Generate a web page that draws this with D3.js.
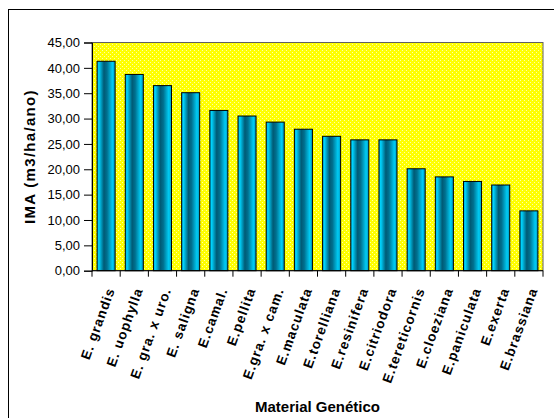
<!DOCTYPE html>
<html><head><meta charset="utf-8">
<script src="https://cdn.jsdelivr.net/npm/d3@7"></script>
<style>body{margin:0;background:#fff}svg{display:block}</style>
</head><body>
<script>
const categories = ["E. grandis","E. uophylla","E. gra. x uro.","E. saligna","E.camal.","E.pellita","E.gra. x cam.","E.maculata","E.torelliana","E.resinifera","E.citriodora","E.tereticornis","E.cloeziana","E.paniculata","E.exerta","E.brassiana"];
const values = [41.3, 38.7, 36.5, 35.1, 31.6, 30.5, 29.3, 27.9, 26.5, 25.8, 25.8, 20.1, 18.5, 17.6, 16.9, 11.8];
const yTicks = [0,5,10,15,20,25,30,35,40,45];
const yTitle = "IMA (m3/ha/ano)";
const xTitle = "Material Genético";

const W = 554, H = 418;
const m = {left:92, right:543, top:42.5, bottom:270.7};
const svg = d3.select("body").append("svg").attr("width",W).attr("height",H);
const defs = svg.append("defs");
const pat = defs.append("pattern").attr("id","dots").attr("patternUnits","userSpaceOnUse").attr("width",4).attr("height",4);
pat.append("rect").attr("width",4).attr("height",4).attr("fill","#ffff00");
pat.append("rect").attr("x",0).attr("y",0).attr("width",1).attr("height",1).attr("fill","#ffffa8");
pat.append("rect").attr("x",2).attr("y",2).attr("width",1).attr("height",1).attr("fill","#ffffa8");
const grad = defs.append("linearGradient").attr("id","cyl").attr("x1","0%").attr("x2","100%").attr("y1","0%").attr("y2","0%");
[[0,"#00a8d0"],[0.1,"#00d4ff"],[0.38,"#005a75"],[0.55,"#00708f"],[0.85,"#00ccf5"],[1,"#0098c0"]].forEach(([o,c])=>grad.append("stop").attr("offset",o).attr("stop-color",c));

// outer frame
svg.append("rect").attr("x",8.5).attr("y",9.5).attr("width",560).attr("height",420).attr("fill","#fff").attr("stroke","#000").attr("stroke-width",1);

const x = d3.scaleBand().domain(categories).range([m.left,m.right]).paddingInner(0.36).paddingOuter(0.18);
const y = d3.scaleLinear().domain([0,45]).range([m.bottom,m.top]);

svg.append("rect").attr("x",m.left).attr("y",m.top).attr("width",m.right-m.left).attr("height",m.bottom-m.top)
  .attr("fill","url(#dots)").attr("stroke","#606060").attr("stroke-width",1);

svg.append("g").selectAll("rect").data(values).join("rect")
  .attr("x",(d,i)=>x(categories[i])).attr("width",x.bandwidth())
  .attr("y",d=>y(d)).attr("height",d=>m.bottom-y(d))
  .attr("fill","url(#cyl)").attr("stroke","#000").attr("stroke-width",1);

// y axis
const ya = svg.append("g").attr("transform",`translate(${m.left},0)`)
  .call(d3.axisLeft(y).tickValues(yTicks).tickSize(8).tickPadding(4).tickFormat(d=>d3.format(".2f")(d).replace(".",",")));
ya.select(".domain").attr("stroke","#000");
ya.selectAll("text").attr("font-family","Liberation Sans, Arial, sans-serif").attr("font-size","13px").attr("fill","#000");

// x axis ticks at band boundaries
const bounds = d3.range(categories.length+1).map(i=>m.left + i*(m.right-m.left)/categories.length);
svg.append("line").attr("x1",m.left).attr("x2",m.right).attr("y1",m.bottom).attr("y2",m.bottom).attr("stroke","#000");
svg.append("g").selectAll("line").data(bounds).join("line")
  .attr("x1",d=>d).attr("x2",d=>d).attr("y1",m.bottom).attr("y2",m.bottom+6).attr("stroke","#000");

svg.append("g").selectAll("text").data(categories).join("text")
  .attr("transform",d=>`translate(${x(d)+x.bandwidth()/2+9},${m.bottom+19}) rotate(-70)`)
  .attr("text-anchor","end")
  .attr("font-family","Liberation Sans, Arial, sans-serif").attr("font-weight","bold").attr("font-size","13.5px")
  .attr("letter-spacing","1px")
  .text(d=>d);

svg.append("text").attr("transform",`translate(35,${(m.top+m.bottom)/2}) rotate(-90)`)
  .attr("text-anchor","middle").attr("font-family","Liberation Sans, Arial, sans-serif").attr("font-weight","bold").attr("font-size","15px")
  .attr("letter-spacing","1.3px").text(yTitle);

svg.append("text").attr("x",(m.left+m.right)/2).attr("y",412)
  .attr("text-anchor","middle").attr("font-family","Liberation Sans, Arial, sans-serif").attr("font-weight","bold").attr("font-size","15px")
  .text(xTitle);
</script>
</body></html>
